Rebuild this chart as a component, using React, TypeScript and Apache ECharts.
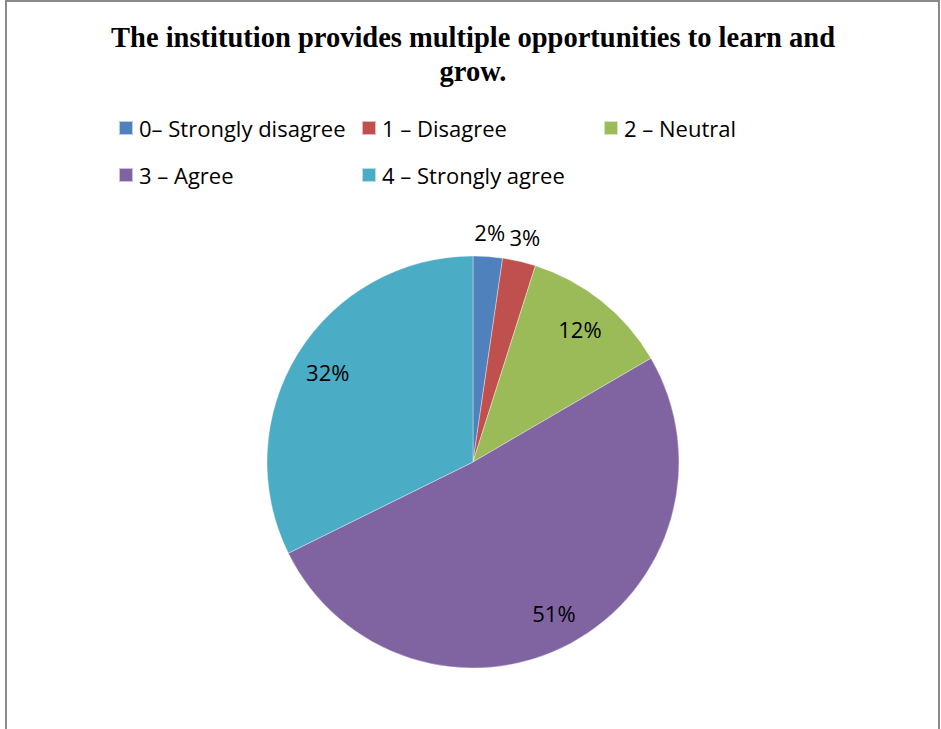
import React, { useEffect, useRef } from "react";
import * as echarts from "echarts";

const TITLE = "The institution provides multiple opportunities to learn and\ngrow.";
const categories = ["0– Strongly disagree", "1 – Disagree", "2 – Neutral", "3 – Agree", "4 – Strongly agree"];
const values = [2.3, 2.6, 11.7, 51.1, 32.3];
const colors = ["#4F81BD", "#C0504D", "#9BBB59", "#8064A2", "#4BACC6"];
const insideLabel = [false, false, true, true, true];
const legendLefts = [118, 361, 603, 118, 361];
const legendTops = [128, 128, 128, 175, 175];

const FONT = "'Open Sans', Lato, sans-serif";

export default function App() {
  const ref = useRef<HTMLDivElement>(null);
  useEffect(() => {
    if (!ref.current) return;
    const chart = echarts.init(ref.current, null, { renderer: "svg" });
    const center = [473, 462];
    const fmt = (p: any) => Math.round(p.percent) + "%";
    const labelStyle = { color: "#000", fontFamily: FONT, fontSize: 22 };
    chart.setOption({
      animation: false,
      backgroundColor: "#fff",
      title: {
        text: TITLE,
        left: 473,
        top: 20,
        padding: 0,
        textAlign: "center",
        textStyle: {
          fontFamily: "'Liberation Serif', 'Times New Roman', serif",
          fontWeight: "bold",
          fontSize: 28.5,
          lineHeight: 34,
          color: "#000",
        },
      },
      legend: categories.map((c, i) => ({
        data: [c],
        left: legendLefts[i],
        top: legendTops[i] - 12,
        padding: 0,
        itemWidth: 14,
        itemHeight: 14,
        icon: "rect",
        textStyle: { color: "#000", fontFamily: FONT, fontSize: 22, lineHeight: 24, padding: [0, 0, 0, 1] },
        selectedMode: false,
      })),
      graphic: [
        {
          type: "rect",
          shape: { x: 6, y: 1, width: 933, height: 780 },
          style: { fill: "none", stroke: "#8a8a8a", lineWidth: 2 },
          silent: true,
        },
      ],
      series: [
        {
          type: "pie",
          center,
          radius: [0, 206],
          startAngle: 90,
          clockwise: true,
          label: { show: false },
          labelLine: { show: false },
          emphasis: { disabled: true },
          itemStyle: { borderColor: "rgba(255,255,255,0.6)", borderWidth: 0.6 },
          data: categories.map((c, i) => ({ name: c, value: values[i], itemStyle: { color: colors[i] } })),
        },
        {
          type: "pie",
          center,
          radius: [0, 336],
          startAngle: 90,
          silent: true,
          itemStyle: { color: "rgba(0,0,0,0)" },
          labelLine: { show: false },
          label: { show: true, position: "inside", formatter: fmt, ...labelStyle },
          data: categories.map((c, i) => ({ name: c, value: values[i], label: { show: insideLabel[i] } })),
        },
        {
          type: "pie",
          center,
          radius: [0, 456],
          startAngle: 90,
          silent: true,
          itemStyle: { color: "rgba(0,0,0,0)" },
          labelLine: { show: false },
          label: { show: true, position: "inside", formatter: fmt, ...labelStyle },
          data: categories.map((c, i) => ({ name: c, value: values[i], label: { show: !insideLabel[i] } })),
        },
      ],
    });
    return () => chart.dispose();
  }, []);
  return (
    <div
      ref={ref}
      style={{ position: "absolute", left: 0, top: 0, width: 941, height: 729 }}
    />
  );
}
